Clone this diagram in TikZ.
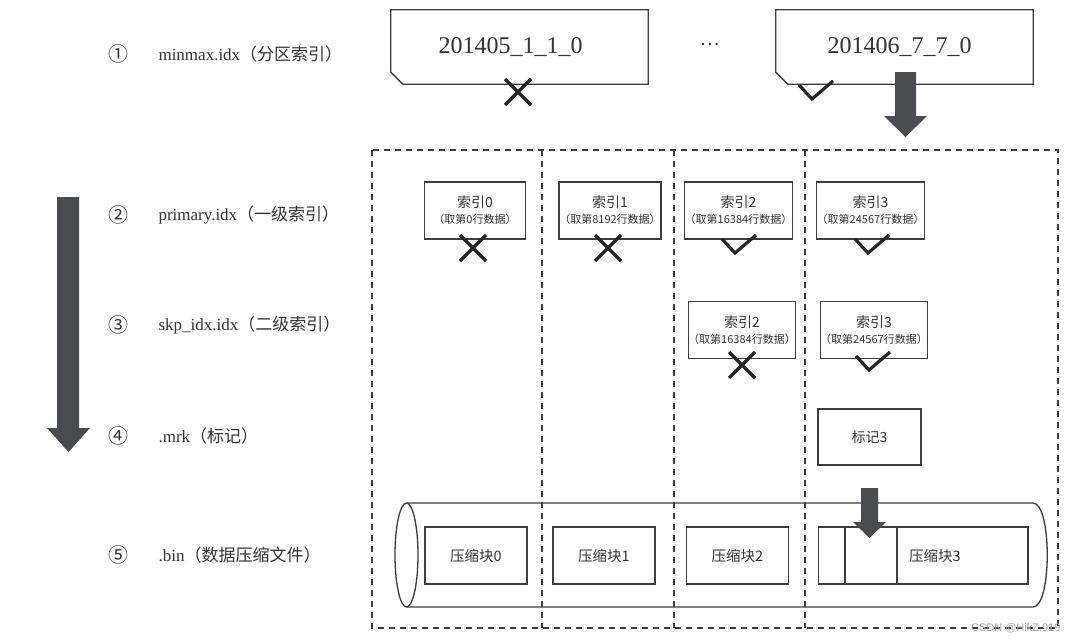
\documentclass[tikz,border=0pt]{standalone}
\usepackage{fontspec}
\setmainfont{Liberation Serif}
\newfontfamily\cjk{Noto Sans CJK SC}
\newfontfamily\wmfont{Liberation Sans}
\usetikzlibrary{calc}

\definecolor{linegray}{HTML}{3C3C3C}
\definecolor{txtgray}{HTML}{333333}
\definecolor{arrowgray}{HTML}{4A4B50}

\begin{document}
\begin{tikzpicture}[x=1pt,y=-1pt,
            boxline/.style={draw=linegray,line width=1.3pt},
            partbox/.style={minimum width=257pt,minimum height=74pt,inner sep=0pt,text=txtgray,font=\fontsize{24}{26}\selectfont},
            idxbox/.style={boxline,minimum width=102pt,minimum height=57pt,inner sep=0pt,align=center,text=txtgray,font=\cjk},
            binbox/.style={boxline,minimum width=102pt,minimum height=57pt,inner sep=0pt,text=txtgray,font=\cjk\fontsize{14.5}{17}\selectfont},
            lyrlbl/.style={anchor=west,text=txtgray,font=\fontsize{17}{20}\selectfont},
            numlbl/.style={text=txtgray,font=\cjk\fontsize{20}{22}\selectfont},
            dashline/.style={draw=linegray,line width=1.3pt,dash pattern=on 6pt off 5pt},
            blockarrow/.style={fill=arrowgray,draw=none},
            markline/.style={draw=black!85,line width=3.2pt},
            crossmk/.pic={\draw[markline] (-13,-13) -- (13,13) (-13,13) -- (13,-13);},
            tickmk/.pic={\draw[markline] (-13,-14) -- (0,0) -- (21,-18);}]
            \useasboundingbox (0,0) rectangle (1080,643);

            % layer names
            \node[numlbl] (n1) at (118,54) {①};
            \node[lyrlbl] (l1) at (155,54) {minmax.idx{\cjk（分区索引）}};
            \node[numlbl] (n2) at (118,215) {②};
            \node[lyrlbl] (l2) at (155,215) {primary.idx{\cjk（一级索引）}};
            \node[numlbl] (n3) at (118,325) {③};
            \node[lyrlbl] (l3) at (155,325) {skp\_idx.idx{\cjk（二级索引）}};
            \node[numlbl] (n4) at (118,436) {④};
            \node[lyrlbl] (l4) at (155,436) {.mrk{\cjk（标记）}};
            \node[numlbl] (n5) at (118,555) {⑤};
            \node[lyrlbl] (l5) at (155,555) {.bin{\cjk（数据压缩文件）}};
            \fill[blockarrow] (57,197) -- (79,197) -- (79,428) -- (90,428) -- (68.5,452) -- (47,428) -- (57,428) -- cycle;

            % partitions
            \node[partbox] (p1) at (519.5,47) {201405\_1\_1\_0\hspace*{18pt}};
            \draw[boxline] (p1.north west) -- (p1.north east) -- (p1.south east) -- ($(p1.south west)+(12,0)$) -- ($(p1.south west)+(0,-12)$) -- cycle;
            \node[text=txtgray,font=\cjk\fontsize{18}{20}\selectfont] (dots) at (710,44) {…};
            \node[partbox] (p2) at (904.5,47) {201406\_7\_7\_0\hspace*{10pt}};
            \draw[boxline] (p2.north west) -- (p2.north east) -- (p2.south east) -- ($(p2.south west)+(12,0)$) -- ($(p2.south west)+(0,-12)$) -- cycle;
            \pic at (518,92) {crossmk};
            \pic at (812,99) {tickmk};
            \fill[blockarrow] (895,72) -- (916,72) -- (916,116) -- (927,116) -- (905.5,137) -- (884,116) -- (895,116) -- cycle;

            \draw[dashline] (372,150) rectangle (1058,628);
            \draw[dashline] (542,150) -- (542,628);
            \draw[dashline] (674,150) -- (674,628);
            \draw[dashline] (805,150) -- (805,628);

            % primary.idx
            \node[idxbox,minimum width=101pt] (pi0) at (475,210.5) {\fontsize{14}{13}\selectfont 索引0\\[4pt]\fontsize{11}{13}\selectfont （取第0行数据）};
            \node[idxbox] (pi1) at (610,210.5) {\fontsize{14}{13}\selectfont 索引1\\[4pt]\fontsize{11}{13}\selectfont （取第8192行数据）};
            \node[idxbox] (pi2) at (738.5,210.5) {\fontsize{14}{13}\selectfont 索引2\\[4pt]\fontsize{11}{13}\selectfont （取第16384行数据）};
            \node[idxbox] (pi3) at (870.5,210.5) {\fontsize{14}{13}\selectfont 索引3\\[4pt]\fontsize{11}{13}\selectfont （取第24567行数据）};
            \pic at (473,248) {crossmk};
            \pic at (608,248) {crossmk};
            \pic at (735,253) {tickmk};
            \pic at (868,253) {tickmk};

            % skp_idx.idx
            \node[idxbox] (si2) at (742,330) {\fontsize{14}{13}\selectfont 索引2\\[4pt]\fontsize{11}{13}\selectfont （取第16384行数据）};
            \node[idxbox] (si3) at (874,330) {\fontsize{14}{13}\selectfont 索引3\\[4pt]\fontsize{11}{13}\selectfont （取第24567行数据）};
            \pic at (742,365) {crossmk};
            \pic at (869,370) {tickmk};

            % .mrk
            \node[idxbox,minimum width=103pt,minimum height=56pt,font=\cjk\fontsize{14}{16}\selectfont] (mk3) at (869.5,437) {标记3};

            % .bin
            \draw[boxline] (406.5,555) ellipse [x radius=11.5, y radius=52];
            \draw[boxline] (406.5,503) -- (1033,503) .. controls (1052,503) and (1052,607) .. (1033,607) -- (406.5,607);
            \node[binbox] (cb0) at (476,555.5) {压缩块0};
            \node[binbox] (cb1) at (604,555.5) {压缩块1};
            \node[binbox] (cb2) at (737.5,555.5) {压缩块2};
            \node[binbox,minimum width=209.5pt] (cb3) at (923.25,555.5) {};
            \draw[boxline] ($(cb3.north west)+(27,0)$) -- ($(cb3.south west)+(27,0)$);
            \draw[boxline] ($(cb3.north west)+(79,0)$) -- ($(cb3.south west)+(79,0)$);
            \node[text=txtgray,font=\cjk\fontsize{14.5}{17}\selectfont] (cb3t) at (935,556) {压缩块3};
            \fill[blockarrow] (861,488) -- (878,488) -- (878,522) -- (886,522) -- (869.5,538) -- (853,522) -- (861,522) -- cycle;

            \node[anchor=east,text=gray!70,font=\wmfont\fontsize{11}{12}\selectfont] (wm) at (1064,628) {CSDN @HikZ.919};
        \end{tikzpicture}
\end{document}
